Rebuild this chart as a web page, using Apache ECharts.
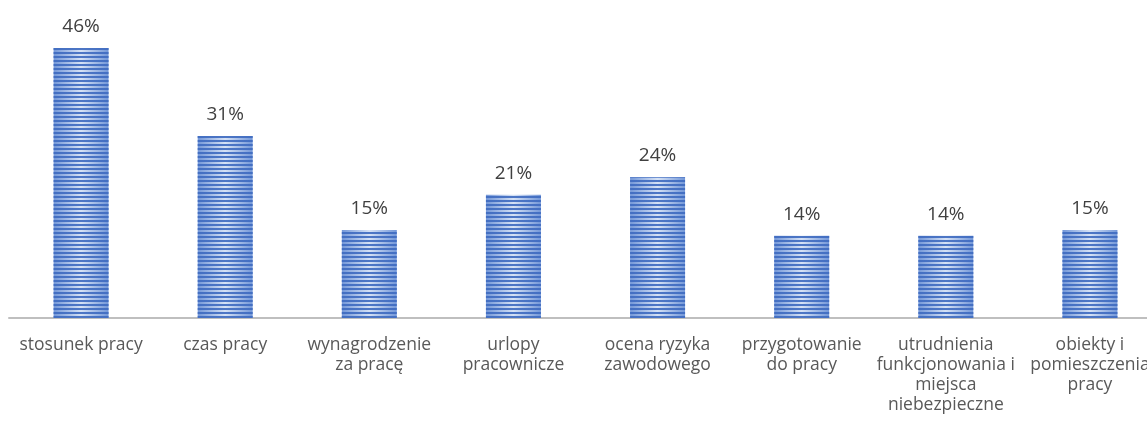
<!DOCTYPE html>
<html>
<head>
<meta charset="utf-8">
<script src="https://cdn.jsdelivr.net/npm/echarts@6/dist/echarts.min.js"></script>
<style>
  html, body { margin: 0; padding: 0; background: #fff; overflow: hidden; }
  /* the original chart runs past the right edge of the picture */
  #chart { width: 1162px; height: 427px; }
</style>
</head>
<body>
<div id="chart"></div>
<script>
var categories = [
  'stosunek pracy',
  'czas pracy',
  'wynagrodzenie\nza pracę',
  'urlopy\npracownicze',
  'ocena ryzyka\nzawodowego',
  'przygotowanie\ndo pracy',
  'utrudnienia\nfunkcjonowania i\nmiejsca\nniebezpieczne',
  'obiekty i\npomieszczenia\npracy'
]
var values = [46, 31, 15, 21, 24, 14, 14, 15]

var chart = echarts.init(document.getElementById('chart'))
chart.setOption({
  animation: false,
  aria: { enabled: true, decal: { show: true } },
  grid: {
    left: 9,
    top: 48,
    right: 0,
    bottom: 109
  },
  xAxis: {
    type: 'category',
    data: categories,
    axisLine: { lineStyle: { color: '#bfbfbf', width: 2 } },
    axisTick: { show: false },
    axisLabel: {
      interval: 0,
      margin: 17,
      color: '#595959',
      fontSize: 17.5,
      lineHeight: 20,
      fontFamily: 'Open Sans'
    }
  },
  yAxis: {
    type: 'value',
    min: 0,
    max: 46,
    show: false,
    splitLine: { show: false }
  },
  series: [{
    type: 'bar',
    data: values,
    barWidth: 55,
    itemStyle: {
      color: new echarts.graphic.LinearGradient(0, 0, 1, 0, [
        { offset: 0, color: '#7397d8' },
        { offset: 0.5, color: '#d6e2f5' },
        { offset: 1, color: '#7397d8' }
      ]),
      decal: {
        symbol: 'rect',
        symbolSize: 1,
        color: 'rgba(62, 106, 192, 0.9)',
        dashArrayX: [1, 0],
        dashArrayY: [2, 2],
        rotation: 0
      }
    },
    label: {
      show: true,
      position: 'top',
      distance: 12,
      formatter: '{c}%',
      color: '#404040',
      fontSize: 19,
      fontFamily: 'Open Sans'
    }
  }]
})
</script>
</body>
</html>
